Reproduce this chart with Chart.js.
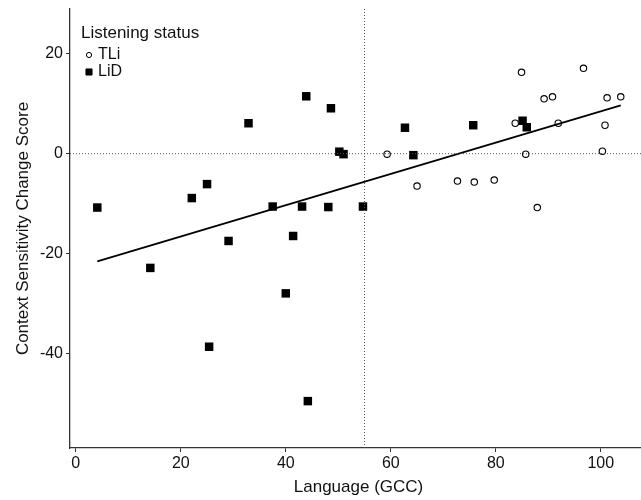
<!DOCTYPE html>
<html>
<head>
<meta charset="utf-8">
<script src="https://cdn.jsdelivr.net/npm/chart.js@4"></script>
<style>
  html, body { margin: 0; padding: 0; background: #fff; }
  .clip { width: 641px; height: 500px; overflow: hidden; position: relative; }
  #chart { position: absolute; left: 0; top: 0; }
</style>
</head>
<body>
<div class="clip"><canvas id="chart" width="653" height="500"></canvas></div>
<script>
// data
const tliX = [59.3, 65.0, 72.7, 75.9, 79.7, 83.7, 84.9, 85.7, 87.9, 89.2, 90.8, 91.9, 96.7, 100.3, 100.8, 101.2, 103.8];
const tliY = [-0.1, -6.5, -5.5, -5.7, -5.3, 6.1, 16.3, -0.1, -10.8, 11.0, 11.4, 6.1, 17.1, 0.5, 5.7, 11.2, 11.4];

const lidX = [4.1, 14.2, 22.1, 25.0, 25.4, 29.1, 32.9, 37.5, 40.0, 41.4, 43.1, 43.9, 44.2, 48.1, 48.6, 50.2, 51.0, 54.7, 62.7, 64.3, 75.7, 85.1, 85.9];
const lidY = [-10.8, -22.9, -8.9, -6.1, -38.7, -17.5, 6.1, -10.6, -28.0, -16.5, -10.6, 11.5, -49.6, -10.7, 9.1, 0.4, -0.1, -10.6, 5.2, -0.3, 5.7, 6.6, 5.3];

// fitted line endpoints
const fitX = [4.1, 103.8];
const fitY = [-21.6, 9.7];

// reference lines
const refX = 55;
const refY = 0;

const xTicks = [0, 20, 40, 60, 80, 100];
const yTicks = [-40, -20, 0, 20];
const xRange = [-1.1, 108.8];
const yRange = [-59, 29];

const font = 'Liberation Sans, Arial, sans-serif';
const toPoints = (xs, ys) => xs.map((x, i) => ({ x, y: ys[i] }));

// small legend drawn inside the panel, like the reference
const insideLegend = {
  id: 'insideLegend',
  afterDraw (chart) {
    const ctx = chart.ctx;
    const items = [
      { text: 'TLi', style: 'circle', fill: '#fff', r: 2.6 },
      { text: 'LiD', style: 'rect', fill: '#000', r: 4.3 },
    ];
    ctx.save();
    ctx.fillStyle = '#111';
    ctx.textBaseline = 'middle';
    ctx.textAlign = 'left';
    ctx.font = '17px ' + font;
    ctx.fillText('Listening status', 81, 33);
    ctx.font = '16px ' + font;
    items.forEach((it, i) => {
      const y = 55 + i * 17;
      ctx.fillStyle = it.fill;
      ctx.strokeStyle = '#000';
      ctx.lineWidth = 1;
      Chart.helpers.drawPoint(ctx, { pointStyle: it.style, radius: it.r, borderWidth: 1 }, 89, y);
      ctx.fillStyle = '#111';
      ctx.fillText(it.text, 98, y);
    });
    ctx.restore();
  },
};

const pickTicks = (values) => (scale) => {
  scale.ticks = values.map((v) => ({ value: v }));
};

// fixed box sizes, no extra label padding
const fixSize = (prop, size) => (scale) => {
  scale[prop] = size;
  scale.paddingLeft = 0;
  scale.paddingRight = 0;
  scale.paddingTop = 0;
  scale.paddingBottom = 0;
};

new Chart(document.getElementById('chart'), {
  type: 'scatter',
  data: {
    datasets: [
      {
        label: 'refY',
        type: 'line',
        data: [{ x: xRange[0], y: refY }, { x: xRange[1], y: refY }],
        borderColor: '#555',
        borderWidth: 1,
        borderDash: [1, 2],
        pointRadius: 0,
      },
      {
        label: 'refX',
        type: 'line',
        data: [{ x: refX, y: yRange[0] }, { x: refX, y: yRange[1] }],
        borderColor: '#555',
        borderWidth: 1,
        borderDash: [1, 2],
        pointRadius: 0,
      },
      {
        label: 'fit',
        type: 'line',
        data: toPoints(fitX, fitY),
        borderColor: '#000',
        borderWidth: 1.8,
        pointRadius: 0,
      },
      {
        label: 'TLi',
        data: toPoints(tliX, tliY),
        pointStyle: 'circle',
        pointRadius: 3.2,
        pointBackgroundColor: '#fff',
        pointBorderColor: '#000',
        pointBorderWidth: 1.1,
      },
      {
        label: 'LiD',
        data: toPoints(lidX, lidY),
        pointStyle: 'rect',
        pointRadius: 6,
        pointBackgroundColor: '#000',
        pointBorderColor: '#000',
        pointBorderWidth: 0,
      },
    ],
  },
  options: {
    animation: false,
    responsive: false,
    layout: { padding: { top: 9, right: 0, left: 0, bottom: 0 } },
    plugins: {
      legend: { display: false },
      tooltip: { enabled: false },
    },
    scales: {
      x: {
        type: 'linear',
        min: xRange[0],
        max: xRange[1],
        afterBuildTicks: pickTicks(xTicks),
        afterFit: fixSize('height', 52),
        border: { color: '#333', width: 1.3 },
        grid: { drawOnChartArea: false, drawTicks: true, tickLength: 4, color: '#333' },
        ticks: { color: '#111', font: { family: font, size: 16 }, padding: 2, maxRotation: 0 },
        title: {
          display: true,
          text: 'Language (GCC)',
          color: '#111',
          font: { family: font, size: 17 },
          padding: { top: 0, bottom: 2 },
        },
      },
      y: {
        type: 'linear',
        min: yRange[0],
        max: yRange[1],
        afterBuildTicks: pickTicks(yTicks),
        afterFit: fixSize('width', 70),
        border: { color: '#333', width: 1.3 },
        grid: { drawOnChartArea: false, drawTicks: true, tickLength: 4, color: '#333' },
        ticks: { color: '#111', font: { family: font, size: 16 }, padding: 3 },
        title: {
          display: true,
          text: 'Context Sensitivity Change Score',
          color: '#111',
          font: { family: font, size: 17 },
          padding: { top: 13, bottom: 0 },
        },
      },
    },
  },
  plugins: [insideLegend],
});
</script>
</body>
</html>
